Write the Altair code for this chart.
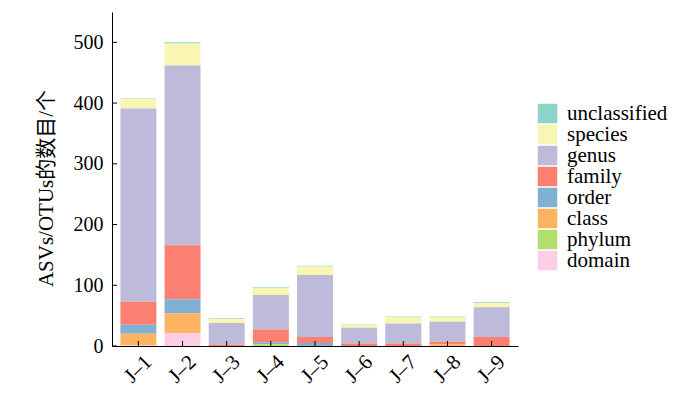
import altair as alt
import pandas as pd

samples = ["J–1", "J–2", "J–3", "J–4", "J–5", "J–6", "J–7", "J–8", "J–9"]
levels = ["unclassified", "species", "genus", "family", "order", "class", "phylum", "domain"]
colors = ["#8dd3c7", "#f9f6b4", "#bebada", "#fb8072", "#80b1d3", "#fdb462", "#b3de69", "#fccde5"]

domain_v       = [1, 21, 0, 0, 0, 0, 0, 0, 0]
phylum_v       = [0, 0, 0, 3, 0, 0, 0, 0, 0]
class_v        = [19, 33, 0, 0, 0, 0, 0, 3, 0]
order_v        = [15, 23, 0, 3, 5, 0, 0, 0, 0]
family_v       = [38, 89, 2, 21, 10, 4, 4, 4, 15]
genus_v        = [318, 296, 36, 57, 102, 26, 33, 33, 49]
species_v      = [16, 36, 7, 12, 14, 5, 11, 8, 7]
unclassified_v = [1, 2, 1, 1, 1, 1, 1, 1, 1]

y_ticks = [0, 100, 200, 300, 400, 500]

series = {
    "unclassified": unclassified_v, "species": species_v, "genus": genus_v,
    "family": family_v, "order": order_v, "class": class_v,
    "phylum": phylum_v, "domain": domain_v,
}
rows = []
for lvl, vals in series.items():
    for s, v in zip(samples, vals):
        rows.append({"sample": s, "level": lvl, "value": v,
                     "rank": len(levels) - 1 - levels.index(lvl)})
df = pd.DataFrame(rows)

W, H = 406, 334
FONT = "Liberation Serif"

xscale = alt.Scale(domain=samples, paddingInner=0.185, paddingOuter=0.19)
yscale = alt.Scale(domain=[0, 550])

bars = alt.Chart(df).mark_bar().encode(
    x=alt.X("sample:N", scale=xscale, sort=samples,
            axis=alt.Axis(title=None, labelAngle=-45, labelFontSize=21, labelFont=FONT,
                          labelColor="black", domainColor="black", tickSize=0,
                          labelPadding=23, labelAlign="center", labelBaseline="middle")),
    y=alt.Y("value:Q", scale=yscale, stack="zero",
            axis=alt.Axis(title="ASVs/OTUs的数目/个", values=y_ticks, tickSize=0,
                          labelFontSize=20, labelFont=FONT, labelColor="black",
                          titleFont="Liberation Serif, Noto Sans CJK SC", titleFontSize=21,
                          titleFontWeight="normal", titleColor="black", titlePadding=17,
                          titleY=176,
                          domainColor="black", grid=False, labelPadding=9)),
    color=alt.Color("level:N", scale=alt.Scale(domain=levels, range=colors),
                    legend=alt.Legend(title=None, orient="none", legendX=425, legendY=91,
                                      symbolType="square", symbolSize=380,
                                      symbolStrokeWidth=0, labelFont=FONT, labelFontSize=21,
                                      labelColor="black", rowPadding=-1.6, labelOffset=9,
                                      symbolOpacity=1)),
    order=alt.Order("rank:Q", sort="ascending"),
)

tick_df = pd.DataFrame({"v": y_ticks})
yticks = alt.Chart(tick_df).mark_rule(color="black", strokeWidth=1).encode(
    y=alt.Y("v:Q", scale=yscale), x=alt.value(0), x2=alt.value(5))

xtick_df = pd.DataFrame({"sample": samples})
xticks = alt.Chart(xtick_df).mark_rule(color="black", strokeWidth=1).encode(
    x=alt.X("sample:N", scale=xscale, sort=samples), y=alt.value(H - 5), y2=alt.value(H))

chart = alt.layer(bars, yticks, xticks).properties(
    width=W, height=H,
    autosize=alt.AutoSizeParams(type="none"),
    padding={"left": 104, "top": 4, "right": 160, "bottom": 41},
).configure_view(stroke=None)

chart.save("out.html", embed_options={"renderer": "svg", "actions": False})
